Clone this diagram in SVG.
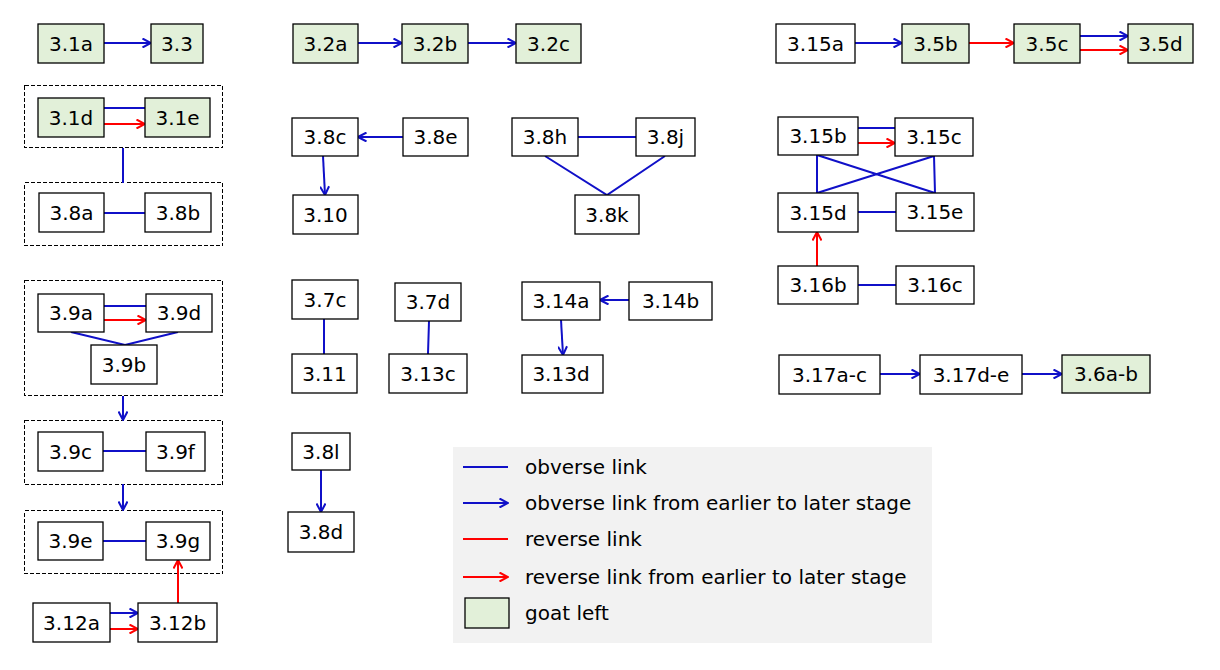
<svg xmlns="http://www.w3.org/2000/svg" width="1220" height="670" viewBox="0 0 1220 670">
<style>
.n rect{fill:#ffffff;stroke:#000000;stroke-width:1.3}
.g rect{fill:#E2F0D9}
text{font-family:"DejaVu Sans","Liberation Sans",sans-serif;font-size:20px;fill:#000000}
.n text{text-anchor:middle}
.dash{fill:none;stroke:#000000;stroke-width:1;stroke-dasharray:4,2;shape-rendering:crispEdges}
.b{fill:none;stroke:#1010C8;stroke-width:2}
.r{fill:none;stroke:#FF0000;stroke-width:2}
.ba{marker-end:url(#ab)}
.ra{marker-end:url(#ar)}
</style>
<defs>
<marker id="ab" viewBox="0 0 10 10" refX="9.5" refY="5" markerWidth="10" markerHeight="10" markerUnits="userSpaceOnUse" orient="auto"><path d="M1,0.5 L9.5,5 L1,9.5" fill="none" stroke="#1010C8" stroke-width="2"/></marker>
<marker id="ar" viewBox="0 0 10 10" refX="9.5" refY="5" markerWidth="10" markerHeight="10" markerUnits="userSpaceOnUse" orient="auto"><path d="M1,0.5 L9.5,5 L1,9.5" fill="none" stroke="#FF0000" stroke-width="2"/></marker>
</defs>
<rect width="1220" height="670" fill="#ffffff"/>
<g id="groups">
<rect class="dash" x="24.5" y="85.5" width="198" height="62"/>
<rect class="dash" x="24.5" y="182.5" width="198" height="63"/>
<rect class="dash" x="24.5" y="280.5" width="198" height="115"/>
<rect class="dash" x="24.5" y="420.5" width="198" height="64"/>
<rect class="dash" x="24.5" y="510.5" width="198" height="63"/>
</g>
<g id="connectors">
<path class="b ba" d="M104,43 H151"/>
<path class="b" d="M104,108 H145"/>
<path class="r ra" d="M104,124 H145"/>
<path class="b" d="M123,148 V183"/>
<path class="b" d="M104,213 H145"/>
<path class="b" d="M104,306 H146"/>
<path class="r ra" d="M104,320 H146"/>
<path class="b" d="M71,332 L125,345 L178,332"/>
<path class="b ba" d="M123,396 V420"/>
<path class="b" d="M103,451 H146"/>
<path class="b ba" d="M123,484 V510"/>
<path class="b" d="M103,541 H146"/>
<path class="r ra" d="M178,603 V560"/>
<path class="b ba" d="M110,613 H138"/>
<path class="r ra" d="M110,629 H138"/>
<path class="b ba" d="M358,43 H402"/>
<path class="b ba" d="M468,43 H516"/>
<path class="b ba" d="M403,137 H358"/>
<path class="b ba" d="M323,156 L325,195"/>
<path class="b" d="M578,137 H636"/>
<path class="b" d="M545,156 L607,195 L665,156"/>
<path class="b" d="M324,319 V354"/>
<path class="b" d="M429,321 L428,354"/>
<path class="b ba" d="M629,300 H600"/>
<path class="b ba" d="M561,320 L563,355"/>
<path class="b ba" d="M321,470 V512"/>
<path class="b ba" d="M855,43 H902"/>
<path class="r ra" d="M969,43 H1014"/>
<path class="b ba" d="M1080,36 H1128"/>
<path class="r ra" d="M1080,50 H1128"/>
<path class="b" d="M858,128 H895"/>
<path class="r ra" d="M858,143 H895"/>
<path class="b" d="M817,155 V193 M934,156 L935,193 M817,155 L935,193 M934,156 L817,193"/>
<path class="b" d="M858,212 H896"/>
<path class="r ra" d="M817,266 V232"/>
<path class="b" d="M858,285 H896"/>
<path class="b ba" d="M880,374 H920"/>
<path class="b ba" d="M1022,374 H1062"/>
</g>
<g id="n31a" class="n g"><rect x="38" y="24" width="66" height="39"/><text x="71" y="51">3.1a</text></g>
<g id="n33" class="n g"><rect x="151" y="24" width="52" height="39"/><text x="177" y="51">3.3</text></g>
<g id="n31d" class="n g"><rect x="38" y="98" width="66" height="39"/><text x="71" y="125">3.1d</text></g>
<g id="n31e" class="n g"><rect x="145" y="98" width="65" height="39"/><text x="177.5" y="125">3.1e</text></g>
<g id="n38a" class="n"><rect x="39" y="193" width="65" height="39"/><text x="71.5" y="220">3.8a</text></g>
<g id="n38b" class="n"><rect x="145" y="193" width="66" height="39"/><text x="178" y="220">3.8b</text></g>
<g id="n39a" class="n"><rect x="38" y="294" width="66" height="38"/><text x="71" y="320">3.9a</text></g>
<g id="n39d" class="n"><rect x="146" y="294" width="66" height="38"/><text x="179" y="320">3.9d</text></g>
<g id="n39b" class="n"><rect x="91" y="345" width="66" height="39"/><text x="124" y="372">3.9b</text></g>
<g id="n39c" class="n"><rect x="38" y="432" width="65" height="39"/><text x="70.5" y="459">3.9c</text></g>
<g id="n39f" class="n"><rect x="146" y="432" width="59" height="39"/><text x="175.5" y="459">3.9f</text></g>
<g id="n39e" class="n"><rect x="38" y="522" width="65" height="38"/><text x="70.5" y="548">3.9e</text></g>
<g id="n39g" class="n"><rect x="146" y="522" width="64" height="38"/><text x="178" y="548">3.9g</text></g>
<g id="n312a" class="n"><rect x="33" y="603" width="77" height="39"/><text x="71.5" y="630">3.12a</text></g>
<g id="n312b" class="n"><rect x="138" y="603" width="79" height="39"/><text x="177.5" y="630">3.12b</text></g>
<g id="n32a" class="n g"><rect x="293" y="24" width="65" height="39"/><text x="325.5" y="51">3.2a</text></g>
<g id="n32b" class="n g"><rect x="402" y="24" width="66" height="39"/><text x="435" y="51">3.2b</text></g>
<g id="n32c" class="n g"><rect x="516" y="24" width="65" height="39"/><text x="548.5" y="51">3.2c</text></g>
<g id="n38c" class="n"><rect x="292" y="118" width="66" height="38"/><text x="325" y="144">3.8c</text></g>
<g id="n38e" class="n"><rect x="403" y="118" width="65" height="38"/><text x="435.5" y="144">3.8e</text></g>
<g id="n310" class="n"><rect x="293" y="195" width="65" height="39"/><text x="325.5" y="222">3.10</text></g>
<g id="n38h" class="n"><rect x="512" y="118" width="66" height="38"/><text x="545" y="144">3.8h</text></g>
<g id="n38j" class="n"><rect x="636" y="118" width="59" height="38"/><text x="665.5" y="144">3.8j</text></g>
<g id="n38k" class="n"><rect x="575" y="195" width="64" height="39"/><text x="607" y="222">3.8k</text></g>
<g id="n37c" class="n"><rect x="292" y="280" width="66" height="39"/><text x="325" y="307">3.7c</text></g>
<g id="n311" class="n"><rect x="292" y="354" width="65" height="39"/><text x="324.5" y="381">3.11</text></g>
<g id="n37d" class="n"><rect x="395" y="283" width="66" height="38"/><text x="428" y="309">3.7d</text></g>
<g id="n313c" class="n"><rect x="389" y="354" width="78" height="39"/><text x="428" y="381">3.13c</text></g>
<g id="n314a" class="n"><rect x="522" y="282" width="78" height="38"/><text x="561" y="308">3.14a</text></g>
<g id="n314b" class="n"><rect x="629" y="282" width="83" height="38"/><text x="670.5" y="308">3.14b</text></g>
<g id="n313d" class="n"><rect x="522" y="355" width="81" height="38"/><text x="561" y="381">3.13d</text></g>
<g id="n38l" class="n"><rect x="292" y="433" width="58" height="37"/><text x="321" y="459">3.8l</text></g>
<g id="n38d" class="n"><rect x="288" y="512" width="66" height="40"/><text x="321" y="539">3.8d</text></g>
<g id="n315a" class="n"><rect x="776" y="24" width="79" height="39"/><text x="815.5" y="51">3.15a</text></g>
<g id="n35b" class="n g"><rect x="902" y="24" width="67" height="39"/><text x="935.5" y="51">3.5b</text></g>
<g id="n35c" class="n g"><rect x="1014" y="24" width="66" height="39"/><text x="1047" y="51">3.5c</text></g>
<g id="n35d" class="n g"><rect x="1128" y="24" width="65" height="39"/><text x="1160.5" y="51">3.5d</text></g>
<g id="n315b" class="n"><rect x="778" y="117" width="80" height="38"/><text x="818" y="143">3.15b</text></g>
<g id="n315c" class="n"><rect x="895" y="118" width="78" height="38"/><text x="934" y="144">3.15c</text></g>
<g id="n315d" class="n"><rect x="778" y="193" width="80" height="39"/><text x="818" y="220">3.15d</text></g>
<g id="n315e" class="n"><rect x="896" y="193" width="78" height="38"/><text x="935" y="219">3.15e</text></g>
<g id="n316b" class="n"><rect x="778" y="266" width="80" height="38"/><text x="818" y="292">3.16b</text></g>
<g id="n316c" class="n"><rect x="896" y="266" width="78" height="38"/><text x="935" y="292">3.16c</text></g>
<g id="n317ac" class="n"><rect x="779" y="355" width="101" height="39"/><text x="829.5" y="382">3.17a-c</text></g>
<g id="n317de" class="n"><rect x="920" y="355" width="102" height="39"/><text x="971" y="382">3.17d-e</text></g>
<g id="n36ab" class="n g"><rect x="1062" y="355" width="88" height="38"/><text x="1106" y="381">3.6a-b</text></g>
<g id="legend">
<rect x="453" y="447" width="479" height="196" fill="#F2F2F2"/>
<path class="b" d="M463,467 H508"/>
<path class="b ba" d="M463,503 H508"/>
<path class="r" d="M463,539 H508"/>
<path class="r ra" d="M463,577 H508"/>
<rect x="465" y="598" width="44" height="30" fill="#E2F0D9" stroke="#000000" stroke-width="1.3"/>
<text x="525" y="474">obverse link</text>
<text x="525" y="510">obverse link from earlier to later stage</text>
<text x="525" y="546">reverse link</text>
<text x="525" y="584">reverse link from earlier to later stage</text>
<text x="525" y="620">goat left</text>
</g>
</svg>
